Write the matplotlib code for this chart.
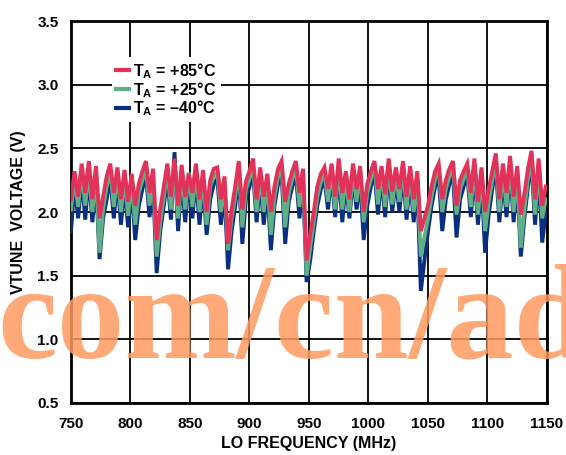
import numpy as np
import matplotlib

matplotlib.use("Agg")
import matplotlib.pyplot as plt

plt.rcParams["font.family"] = ["Liberation Sans", "DejaVu Sans"]
plt.rcParams["font.weight"] = "bold"
plt.rcParams["mathtext.fontset"] = "custom"
plt.rcParams["mathtext.rm"] = "Liberation Sans:bold"
plt.rcParams["mathtext.bf"] = "Liberation Sans:bold"

# LO frequency grid (MHz), one sample every 3 MHz
freq = np.arange(750, 1152, 3)

# VTUNE (V), alternating trough / peak
vtune_85 = [
    2.10, 2.32, 2.12, 2.38, 2.15, 2.40, 2.10, 2.36, 1.95, 2.12,
    2.28, 2.38, 2.15, 2.35, 2.10, 2.33, 2.08, 2.30, 2.05, 2.22,
    2.32, 2.40, 2.15, 2.34, 1.78, 2.02, 2.20, 2.38, 2.12, 2.42,
    2.05, 2.37, 2.12, 2.30, 2.15, 2.38, 2.10, 2.33, 2.00, 2.25,
    2.34, 2.35, 2.10, 2.28, 1.75, 2.02, 2.20, 2.40, 2.02, 2.24,
    2.32, 2.42, 2.10, 2.35, 2.12, 2.30, 2.00, 2.20, 2.34, 2.40,
    2.08, 2.22, 2.32, 2.40, 2.15, 2.34, 1.62, 1.82, 2.00, 2.20,
    2.30, 2.35, 2.18, 2.38, 2.12, 2.42, 2.15, 2.32, 2.10, 2.38,
    2.18, 2.36, 2.00, 2.22, 2.32, 2.40, 2.18, 2.36, 2.14, 2.42,
    2.16, 2.35, 2.18, 2.40, 2.12, 2.36, 2.10, 2.32, 1.85, 1.95,
    2.05, 2.20, 2.32, 2.38, 2.10, 2.25, 2.34, 2.40, 2.05, 2.25,
    2.32, 2.38, 2.15, 2.42, 2.08, 2.35, 2.00, 2.18, 2.32, 2.46,
    2.10, 2.38, 2.15, 2.44, 2.12, 2.36, 1.98, 2.14, 2.34, 2.48,
    2.10, 2.42, 2.05, 2.20,
]
vtune_25 = [
    2.02, 2.28, 2.04, 2.33, 2.05, 2.34, 2.00, 2.31, 1.68, 2.02,
    2.20, 2.33, 2.04, 2.31, 2.00, 2.28, 1.97, 2.25, 1.90, 2.15,
    2.25, 2.34, 2.05, 2.28, 1.65, 1.92, 2.12, 2.34, 2.02, 2.38,
    1.95, 2.33, 2.02, 2.31, 2.04, 2.33, 2.00, 2.29, 1.90, 2.20,
    2.28, 2.31, 2.00, 2.22, 1.70, 1.95, 2.12, 2.35, 1.88, 2.18,
    2.26, 2.37, 2.00, 2.31, 2.00, 2.25, 1.82, 2.12, 2.28, 2.35,
    1.88, 2.15, 2.26, 2.35, 2.04, 2.29, 1.50, 1.72, 1.92, 2.12,
    2.24, 2.31, 2.08, 2.35, 2.02, 2.37, 2.02, 2.29, 2.00, 2.33,
    2.08, 2.32, 1.92, 2.15, 2.26, 2.37, 2.06, 2.33, 2.04, 2.39,
    2.06, 2.31, 2.08, 2.37, 2.02, 2.33, 2.00, 2.27, 1.65, 1.80,
    1.95, 2.12, 2.26, 2.34, 2.00, 2.18, 2.28, 2.35, 1.98, 2.18,
    2.26, 2.34, 2.04, 2.37, 1.98, 2.31, 1.85, 2.08, 2.25, 2.41,
    2.00, 2.33, 2.04, 2.39, 2.00, 2.32, 1.72, 2.02, 2.26, 2.43,
    1.98, 2.37, 1.95, 2.10,
]
vtune_m40 = [
    1.85, 2.22, 1.95, 2.28, 1.94, 2.30, 1.92, 2.26, 1.63, 1.95,
    2.10, 2.28, 1.95, 2.26, 1.90, 2.22, 1.88, 2.20, 1.78, 2.05,
    2.18, 2.30, 1.96, 2.22, 1.52, 1.85, 2.05, 2.28, 1.94, 2.47,
    1.85, 2.28, 1.92, 2.26, 1.95, 2.28, 1.90, 2.24, 1.82, 2.10,
    2.22, 2.26, 1.90, 2.18, 1.55, 1.85, 2.05, 2.30, 1.75, 2.10,
    2.20, 2.32, 1.92, 2.26, 1.90, 2.20, 1.70, 2.05, 2.22, 2.30,
    1.75, 2.08, 2.20, 2.30, 1.95, 2.24, 1.45, 1.62, 1.85, 2.05,
    2.18, 2.26, 2.02, 2.30, 1.96, 2.32, 1.92, 2.24, 1.95, 2.28,
    2.02, 2.26, 1.78, 2.05, 2.20, 2.32, 1.98, 2.28, 1.96, 2.33,
    2.00, 2.26, 2.00, 2.32, 1.94, 2.28, 1.92, 2.22, 1.38, 1.62,
    1.85, 2.05, 2.20, 2.28, 1.85, 2.10, 2.22, 2.30, 1.80, 2.10,
    2.20, 2.30, 1.96, 2.32, 1.90, 2.26, 1.68, 1.98, 2.18, 2.36,
    1.92, 2.28, 1.96, 2.34, 1.92, 2.26, 1.65, 1.95, 2.20, 2.38,
    1.90, 2.32, 1.76, 2.00,
]

series = [
    (vtune_85, "#E2325A", "T$_\\mathregular{A}$ = +85°C"),
    (vtune_25, "#5FAF86", "T$_\\mathregular{A}$ = +25°C"),
    (vtune_m40, "#0B2F80", "T$_\\mathregular{A}$ = \u201340°C"),
]

fig = plt.figure(figsize=(5.66, 4.55), dpi=100)
ax = fig.add_axes([0.1254, 0.1143, 0.841, 0.8395])
ax.patch.set_alpha(0)

# site watermark that sits across the lower half of the plot
fig.text(-0.004, 0.215, "com/cn/ad", family="Liberation Serif", weight="bold",
         fontsize=97, color="#FF9A62", alpha=0.85, ha="left", va="baseline",
         zorder=0.5)

# draw coldest first so +85 °C ends up on top, legend order stays hot -> cold
handles = []
for values, color, label in series[::-1]:
    (line,) = ax.plot(freq, values, color=color, lw=2.8, solid_joinstyle="miter",
                      label=label, zorder=3)
    handles.append(line)
handles = handles[::-1]

ax.set_xlim(750, 1150)
ax.set_ylim(0.5, 3.5)
ax.set_xticks(np.arange(750, 1151, 50))
ax.set_yticks(np.arange(0.5, 3.51, 0.5))
ax.set_yticklabels([f"{v:.1f}" for v in np.arange(0.5, 3.51, 0.5)])
ax.grid(True, color="black", lw=1.3, zorder=1)
ax.set_axisbelow(True)
ax.tick_params(length=0, labelsize=11)
ax.tick_params(axis="x", pad=10)
ax.tick_params(axis="y", pad=9)
for spine in ax.spines.values():
    spine.set_linewidth(2)

ax.set_xlabel("LO FREQUENCY (MHz)", fontsize=11.5, fontweight="bold", labelpad=4)
ax.set_ylabel("VTUNE  VOLTAGE (V)", fontsize=11.5, fontweight="bold", labelpad=8)

leg = ax.legend(handles=handles, loc="upper left", bbox_to_anchor=(0.086, 0.906),
                frameon=True, fancybox=False, framealpha=1, edgecolor="none",
                fontsize=11.5, handlelength=0.8, handletextpad=0.3,
                labelspacing=-0.05, borderpad=0.25, borderaxespad=0)
for h in leg.legend_handles:
    h.set_linewidth(3)

fig.savefig("out.png", dpi=100)
